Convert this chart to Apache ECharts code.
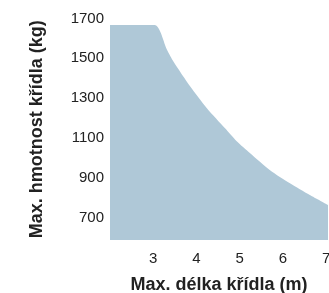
<!DOCTYPE html>
<html><head><meta charset="utf-8">
<script src="https://cdn.jsdelivr.net/npm/echarts@6/dist/echarts.min.js"></script>
<style>html,body{margin:0;padding:0;background:#fff}#c{width:329px;height:293px}</style>
</head><body><div id="c"></div>
<script>
var wingLength = [2, 3.03, 3.32, 3.47, 3.86, 4.24, 4.66, 4.93, 5.24, 5.70, 6.16, 6.62, 7.04];
var wingMass = [1667, 1667, 1542, 1483, 1357, 1249, 1148, 1083, 1023, 938, 872, 813, 763];
var yTicks = [700, 900, 1100, 1300, 1500, 1700];
var xTicks = [3, 4, 5, 6, 7];
var xName = 'Max. délka křídla (m)';
var yName = 'Max. hmotnost křídla (kg)';

var data = wingLength.map(function (x, i) { return [x, wingMass[i]]; });
var chart = echarts.init(document.getElementById('c'));
var font = 'Liberation Sans, Arial, Helvetica, sans-serif';
chart.setOption({
  animation: false,
  grid: {left: 110, right: 1, top: 18.5, bottom: 53, containLabel: false, outerBoundsMode: 'none'},
  xAxis: {
    type: 'value', min: 2, max: 7.04,
    axisLine: {show: false}, axisTick: {show: false}, splitLine: {show: false},
    axisLabel: {customValues: xTicks, color: '#222', fontSize: 15, fontFamily: font, margin: 11,
      formatter: function (v) { return String(v); }},
    name: xName, nameLocation: 'middle', nameGap: 36,
    nameTextStyle: {color: '#222', fontSize: 18, fontWeight: 'bold', fontFamily: font}
  },
  yAxis: {
    type: 'value', min: 587, max: 1700,
    axisLine: {show: false}, axisTick: {show: false}, splitLine: {show: false},
    axisLabel: {customValues: yTicks, color: '#222', fontSize: 15, fontFamily: font, margin: 6,
      formatter: function (v) { return String(v); }},
    name: yName, nameLocation: 'middle', nameGap: 64, nameRotate: 90,
    nameTextStyle: {color: '#222', fontSize: 18, fontWeight: 'bold', fontFamily: font}
  },
  series: [{
    type: 'line', data: data, smooth: 0.25,
    showSymbol: false, lineStyle: {width: 0},
    areaStyle: {color: '#afc8d7', opacity: 1, origin: 'start'}
  }]
});
</script></body></html>
